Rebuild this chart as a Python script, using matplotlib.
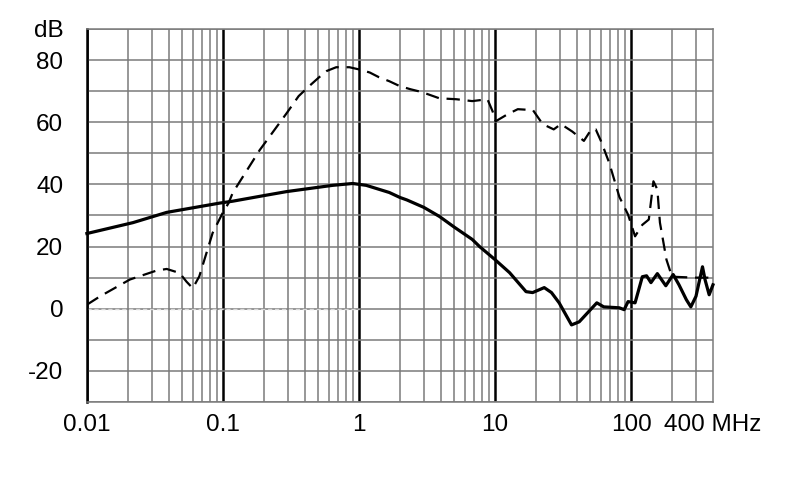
import matplotlib
matplotlib.use("Agg")
import matplotlib.pyplot as plt
from matplotlib.ticker import FixedLocator, NullFormatter
import matplotlib.transforms as mtransforms

plt.rcParams['font.family'] = ['Liberation Sans', 'DejaVu Sans']

# solid curve (MHz, dB)
solid_f = [0.01, 0.0218, 0.0386, 0.095, 0.118, 0.2, 0.295, 0.64, 0.9, 1.13, 1.67, 2.0,
           2.25, 3.0, 3.9, 5.0, 6.8, 7.7, 10, 12.8, 16.9, 18.9, 23, 26, 29.6,
           36.5, 41.6, 56, 63, 82, 89, 95, 107, 121, 130, 140, 156, 180, 204,
           225, 255, 275, 300, 335, 350, 375, 400]
solid_db = [24.2, 27.7, 31, 34, 34.6, 36.4, 37.7, 39.7, 40.3, 39.7, 37.4, 35.8,
            35, 32.6, 29.7, 26.3, 22.3, 20, 15.8, 11.6, 5.5, 5.2, 6.8, 5.2, 1.9,
            -5.2, -4.2, 1.9, 0.6, 0.3, -0.3, 2.3, 1.9, 10.3, 10.6, 8.4, 11.3, 7.4, 11,
            7.7, 2.9, 0.6, 4, 13.5, 9.3, 4.5, 7.7]

# dashed curve (MHz, dB)
dash_f = [0.01, 0.0125, 0.0207, 0.0326, 0.0386, 0.048, 0.054, 0.06, 0.067, 0.084,
          0.1, 0.11, 0.118, 0.186, 0.295, 0.36, 0.43, 0.51, 0.58, 0.68, 0.85, 1.0,
          1.2, 1.4, 1.67, 2.0, 2.4, 2.9, 3.9, 5.2, 6.8, 8.8, 9.6, 10.1, 12.4, 14.7,
          19, 22.4, 27, 30.5, 37, 45, 51, 55, 60, 69, 82, 95, 107, 121, 135, 146,
          156, 163, 182, 200, 300, 400]
dash_db = [1.3, 4, 9.4, 12.3, 12.8, 11.5, 8.7, 6.6, 10.4, 24.4,
           31, 34, 37.3, 51, 63, 68.4, 71.6, 74.5, 76.5, 77.7, 77.7, 77,
           76, 74.5, 73.2, 71.6, 70.6, 69.7, 67.7, 67.4, 66.8, 67.4, 63.5, 60.3, 62.6, 64.2,
           63.9, 59.4, 57.7, 59.4, 57, 54, 57.7, 57.7, 54, 47, 36, 30.3, 23.3, 27, 28.7, 41,
           38.4, 27.7, 15.8, 10.3, 10, 10]

x_ticks = [0.01, 0.1, 1, 10, 100]
x_labels = ['0.01', '0.1', '1', '10', '100']
y_ticks = [-20, 0, 20, 40, 60, 80, 90]
y_labels = ['-20', '0', '20', '40', '60', '80', 'dB']

fig = plt.figure(figsize=(7.9, 4.99), dpi=100)
ax = fig.add_axes([0.110, 0.1944, 0.7925, 0.7475])

ax.set_xscale('log')
ax.set_xlim(0.01, 400)
ax.set_ylim(-30, 90)

minor_x = [m * 10.0 ** k for k in range(-2, 3) for m in range(2, 10) if m * 10.0 ** k < 400]
ax.xaxis.set_major_locator(FixedLocator(x_ticks))
ax.xaxis.set_minor_locator(FixedLocator(minor_x))
ax.xaxis.set_minor_formatter(NullFormatter())
ax.set_xticklabels(x_labels)
ax.yaxis.set_major_locator(FixedLocator(y_ticks))
ax.yaxis.set_minor_locator(FixedLocator(list(range(-30, 91, 10))))
ax.set_yticklabels(y_labels)

ax.xaxis.grid(True, which='major', color='black', lw=1.8)
ax.xaxis.grid(True, which='minor', color='#7a7a7a', lw=1.1)
ax.yaxis.grid(True, which='both', color='#7a7a7a', lw=1.1)
ax.set_axisbelow(True)

ax.tick_params(which='both', length=0, labelsize=17.5)
ax.tick_params(axis='y', pad=17)
ax.tick_params(axis='x', pad=9)

for side in ['top', 'right', 'bottom']:
    ax.spines[side].set_color('#7a7a7a')
    ax.spines[side].set_linewidth(1.1)
ax.spines['left'].set_color('black')
ax.spines['left'].set_linewidth(1.8)

# faint zero reference
ax.plot([0.01, 1], [0, 0], color='#d8d8d8', lw=1.0, ls=(0, (3, 2)), zorder=2)

ax.plot(solid_f, solid_db, color='black', lw=2.3, zorder=4,
        solid_joinstyle='round', clip_on=False)
ax.plot(dash_f, dash_db, color='black', lw=1.6, dashes=(6, 3.5), zorder=4)

# unit label sits under the right edge, in line with the tick labels
trans = mtransforms.blended_transform_factory(ax.transData, ax.transAxes)
trans = trans + mtransforms.ScaledTranslation(0, -9 / 72, fig.dpi_scale_trans)
ax.text(400, 0, '400 MHz', transform=trans, ha='center', va='top', fontsize=17.5)

fig.savefig('out.png', dpi=100)
